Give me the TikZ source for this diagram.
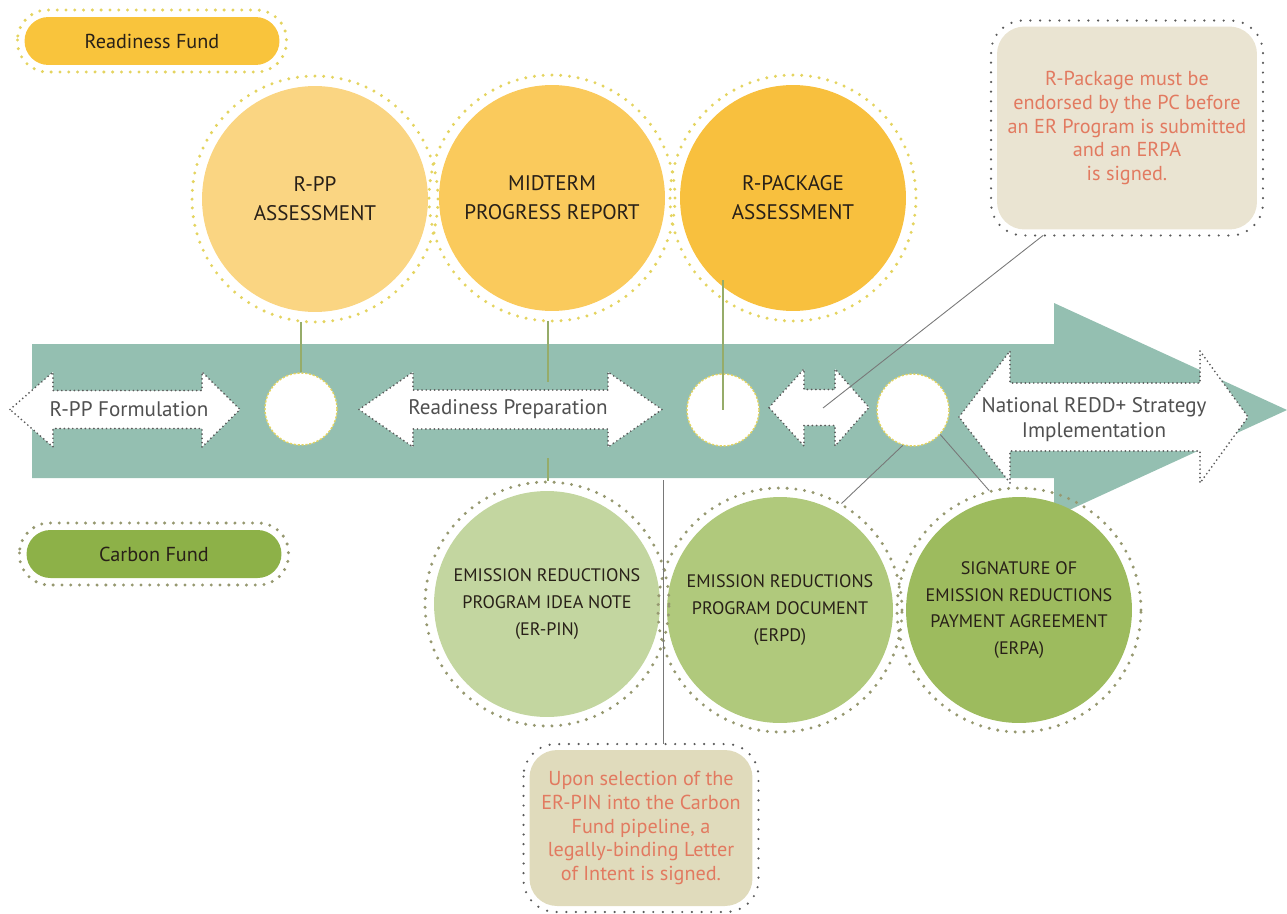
\documentclass[tikz,border=0pt]{standalone}
\usepackage{fontspec}
\setmainfont{PT Sans}
\definecolor{bandteal}{RGB}{148,191,177}
\definecolor{rfyellow}{RGB}{249,196,60}
\definecolor{cfgreen}{RGB}{141,177,72}
\definecolor{ringyellow}{RGB}{228,212,96}
\definecolor{ringgreen}{RGB}{150,152,112}
\definecolor{rppfill}{RGB}{250,213,130}
\definecolor{midfill}{RGB}{250,202,92}
\definecolor{rpackfill}{RGB}{248,192,62}
\definecolor{pinfill}{RGB}{195,214,160}
\definecolor{erpdfill}{RGB}{176,201,124}
\definecolor{erpafill}{RGB}{157,187,94}
\definecolor{notebeige}{RGB}{234,228,210}
\definecolor{noteolive}{RGB}{224,219,188}
\definecolor{notered}{RGB}{226,122,96}
\definecolor{disctext}{RGB}{40,32,24}
\definecolor{flowgray}{RGB}{80,80,80}
\definecolor{dotgray}{RGB}{90,90,90}
\definecolor{linegreen}{RGB}{150,172,105}
\definecolor{linegray}{RGB}{120,120,120}
\newcommand{\twoway}[7]{%
  \draw[flow] (#2,#1) -- (#3,{#1-#7}) -- (#3,{#1-#6}) -- (#4,{#1-#6}) -- (#4,{#1-#7}) -- (#5,#1)
    -- (#4,{#1+#7}) -- (#4,{#1+#6}) -- (#3,{#1+#6}) -- (#3,{#1+#7}) -- cycle;}
\begin{document}
\begin{tikzpicture}[x=0.02cm, y=-0.02cm,
    bigdisc/.style={circle, minimum size=4.52cm, inner sep=0pt, outer sep=0.2cm, align=center,
      text=disctext, font=\fontsize{12}{16.4}\selectfont},
    greendisc/.style={bigdisc, font=\fontsize{10.3}{15.3}\selectfont},
    yring/.style={draw=ringyellow, line width=1.9pt, line cap=round, dash pattern=on 0pt off 5pt},
    gring/.style={yring, draw=ringgreen},
    smalldisc/.style={circle, fill=white, draw=ringyellow, dash pattern=on 1.2pt off 1pt,
      line width=0.8pt, minimum size=1.44cm, inner sep=0pt},
    flow/.style={fill=white, draw=dotgray, line width=1.1pt, line cap=round, dash pattern=on 0pt off 2.4pt},
    flowtext/.style={text=flowgray, align=center, font=\fontsize{12}{14.2}\selectfont},
    fund/.style={rounded corners=0.48cm, minimum width=5.1cm, minimum height=0.96cm, outer sep=0.14cm,
      text=disctext, font=\fontsize{11.5}{14}\selectfont},
    note/.style={rounded corners=0.55cm, align=center, text=notered, inner sep=0pt, outer sep=0.12cm,
      font=\fontsize{11.5}{13.6}\selectfont},
    notedots/.style={draw=dotgray, line width=1.4pt, line cap=round, dash pattern=on 0pt off 5.5pt,
      rounded corners=0.65cm},
    link/.style={draw=linegreen, line width=0.6pt},
    pointer/.style={draw=linegray, line width=0.5pt}]
  \useasboundingbox (0,0) rectangle (1287,913);
  \fill[bandteal] (32,344) -- (1054,344) -- (1054,303) -- (1287,410) -- (1054,517) -- (1054,478)
    -- (32,478) -- cycle;
  \twoway{409.5}{10}{53}{202}{240}{19}{37.5}
  \twoway{409.5}{359}{413}{608}{662}{19.5}{37.5}
  \twoway{407.5}{769}{804}{835}{869}{18}{38.5}
  \twoway{417}{959}{1010}{1200}{1248}{34}{66}
  \node[flowtext] (form) at (129,409) {R-PP Formulation};
  \node[flowtext] (prep) at (508,409) {Readiness Preparation};
  \node[flowtext] (impl) at (1094,420) {National REDD+ Strategy\\Implementation};
  \coordinate (hub) at (823,408);
  \node[smalldisc] (rppdot) at (301,409) {};
  \node[smalldisc] (rpackdot) at (723,410) {};
  \node[smalldisc] (erpadot) at (913,410) {};
  \node[fund, fill=rfyellow] (rf) at (152,41) {Readiness Fund};
  \draw[yring, rounded corners=0.6cm] (rf.north west) rectangle (rf.south east);
  \node[fund, fill=cfgreen] (cf) at (154,554) {Carbon Fund};
  \draw[gring, rounded corners=0.6cm] (cf.north west) rectangle (cf.south east);
  \node[bigdisc, fill=rppfill] (rpp) at (315,199) {R-PP\\ASSESSMENT};
  \node[bigdisc, fill=midfill] (mid) at (552,198) {MIDTERM\\PROGRESS REPORT};
  \node[bigdisc, fill=rpackfill] (rpack) at (793,198) {R-PACKAGE\\ASSESSMENT};
  \foreach \n in {rpp,mid,rpack}
    \draw[yring] (\n.center) circle[radius=2.46cm];
  \node[greendisc, fill=pinfill] (erpin) at (547,604)
    {EMISSION REDUCTIONS\\PROGRAM IDEA NOTE\\(ER-PIN)};
  \node[greendisc, fill=erpdfill] (erpd) at (780,610)
    {EMISSION REDUCTIONS\\PROGRAM DOCUMENT\\(ERPD)};
  \node[greendisc, fill=erpafill] (erpa) at (1019,610)
    {SIGNATURE OF\\EMISSION REDUCTIONS\\PAYMENT AGREEMENT\\(ERPA)};
  \foreach \n in {erpin,erpd,erpa}
    \draw[gring] (\n.center) circle[radius=2.44cm];
  \node[note, fill=notebeige, minimum width=5.2cm, minimum height=4.06cm] (pcnote) at (1127,128)
    {R-Package must be\\endorsed by the PC before\\an ER Program is submitted\\and an ERPA\\is signed.};
  \draw[notedots] (pcnote.north west) rectangle (pcnote.south east);
  \node[note, fill=noteolive, minimum width=4.46cm, minimum height=3.12cm] (loinote) at (641,828)
    {Upon selection of the\\ER-PIN into the Carbon\\Fund pipeline, a\\legally-binding Letter\\of Intent is signed.};
  \draw[notedots] (loinote.north west) rectangle (loinote.south east);
  \coordinate (midfoot) at (548,382);
  \coordinate (pinhead) at (548,458);
  \coordinate (rpackin) at (723,280);
  \coordinate (bandfoot) at (663,480);
  \begin{scope}
    \draw[link] (rpp.south -| rppdot) -- (rppdot.north);
    \draw[link] (mid.south -| midfoot) -- (midfoot);
    \draw[link] (pinhead) -- (erpin.north -| pinhead);
    \draw[link] (rpackin) -- (rpackdot.center);
    \draw[pointer] (bandfoot) -- (loinote.north -| bandfoot);
    \draw[pointer] (pcnote.232) -- (hub);
    \draw[pointer] (erpadot.254) -- (erpd.60);
    \draw[pointer] (erpadot.318) -- (erpa.104);
  \end{scope}
\end{tikzpicture}
\end{document}
